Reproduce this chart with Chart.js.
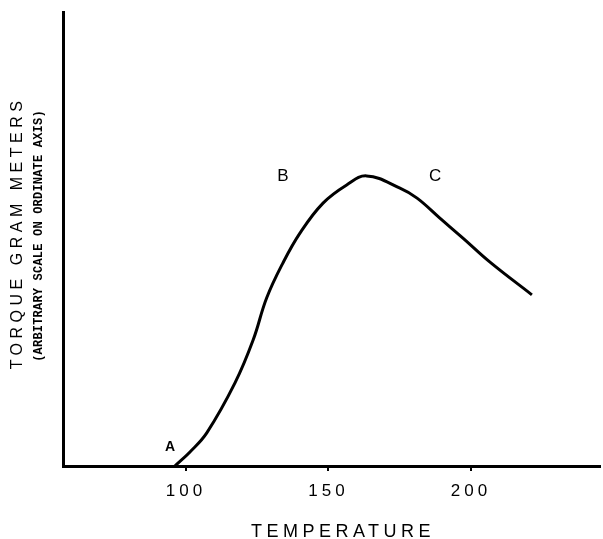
<!DOCTYPE html>
<html>
<head>
<meta charset="utf-8">
<script src="https://cdn.jsdelivr.net/npm/chart.js@4.4.0/dist/chart.umd.min.js"></script>
<style>
  html, body { margin: 0; padding: 0; background: #fff; }
  #wrap { width: 603px; height: 539px; }
</style>
</head>
<body>
<div id="wrap"><canvas id="myChart" width="603" height="539"></canvas></div>
<script>
// values (torque on an arbitrary 0-100 scale)
const temps  = [96.1, 101.4, 107.3, 117.2, 123.6, 128.3, 134.0, 140.0, 148.1, 156.4, 163.4, 175.1, 181.1, 189.1, 197.2, 206.7, 221.4];
const torque = [0, 3.1, 7.3, 18.3, 27.8, 37.0, 44.7, 51.3, 57.9, 61.9, 63.9, 61.2, 59.0, 54.6, 50.2, 44.9, 37.7];
const xTicks = [100, 150, 200];

// point labels on the curve
const markNames = ['A', 'B', 'C'];
const markX = [94.4, 134, 187.4];
const markY = [4.2, 63.7, 63.7];

const ctx = document.getElementById('myChart');

const textPlugin = {
    id: 'textPlugin',
    beforeDraw: function (chart) {
        chart.ctx.letterSpacing = '4px';   // wide tick digits
    },
    beforeDatasetsDraw: function (chart) {
        chart.ctx.letterSpacing = '0px';
    },
    afterDraw: function (chart) {
        const c = chart.ctx;
        const xs = chart.scales.x, ys = chart.scales.y;
        c.save();
        c.fillStyle = '#000';
        c.textAlign = 'center';
        c.textBaseline = 'middle';
        c.letterSpacing = '0px';

        markNames.forEach(function (name, i) {
            c.font = name === 'A' ? 'bold 14px "Liberation Sans"' : '17px "Liberation Sans"';
            c.fillText(name, xs.getPixelForValue(markX[i]), ys.getPixelForValue(markY[i]));
        });

        // x axis title
        c.font = '18px "Liberation Sans"';
        c.letterSpacing = '4.5px';
        c.fillText('TEMPERATURE', 343, 532);

        // y axis titles
        c.save();
        c.translate(18, 235);
        c.rotate(-Math.PI / 2);
        c.font = '16px "Liberation Sans"';
        c.letterSpacing = '4.5px';
        c.fillText('TORQUE GRAM METERS', 2, 0);
        c.restore();

        c.save();
        c.translate(39, 236);
        c.rotate(-Math.PI / 2);
        c.font = 'bold 12px "Liberation Mono"';
        c.letterSpacing = '0.2px';
        c.fillText('(ARBITRARY SCALE ON ORDINATE AXIS)', 0, 0);
        c.restore();

        c.restore();
    }
};

new Chart(ctx, {
    type: 'scatter',
    data: {
        datasets: [{
            data: temps.map(function (t, i) { return { x: t, y: torque[i] }; }),
            showLine: true,
            borderColor: '#000',
            borderWidth: 3,
            pointRadius: 0,
            tension: 0.4,
            clip: false
        }]
    },
    options: {
        responsive: false,
        animation: false,
        layout: { padding: { left: 63, right: 3, top: 12, bottom: 0 } },
        plugins: {
            legend: { display: false },
            tooltip: { enabled: false }
        },
        scales: {
            x: {
                type: 'linear',
                min: 56.84,
                max: 245.3,
                afterBuildTicks: function (scale) {
                    scale.ticks = xTicks.map(function (v) { return { value: v }; });
                },
                afterFit: function (scale) { scale.height = 73; },
                grid: { display: true, drawOnChartArea: false, tickLength: 5, tickColor: '#000', lineWidth: 2 },
                border: { display: true, color: '#000', width: 3 },
                ticks: {
                    color: '#000',
                    padding: 10,
                    maxRotation: 0,
                    font: { family: 'Liberation Sans', size: 17 }
                }
            },
            y: {
                min: 0,
                max: 100,
                afterFit: function (scale) { scale.width = 0; },
                grid: { display: false },
                border: { display: true, color: '#000', width: 3 },
                ticks: { display: false }
            }
        }
    },
    plugins: [textPlugin]
});
</script>
</body>
</html>
